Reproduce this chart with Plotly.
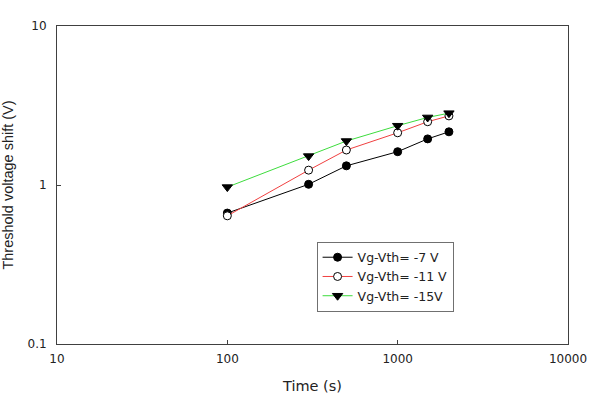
import plotly.graph_objects as go

time_s = [100, 300, 500, 1000, 1500, 2000]
shift_7 = [0.666, 1.01, 1.32, 1.62, 1.95, 2.16]
shift_11 = [0.64, 1.24, 1.66, 2.13, 2.50, 2.72]
shift_15 = [0.97, 1.52, 1.89, 2.36, 2.66, 2.83]

names = ["Vg-Vth= -7 V", "Vg-Vth= -11 V", "Vg-Vth= -15V"]
x_ticks = [10, 100, 1000, 10000]
x_ticktext = ["10", "100", "1000", "10000"]
y_ticks = [0.1, 1, 10]
y_ticktext = ["0.1", "1", "10"]

WIDE = "DejaVu Sans, Verdana, sans-serif"
NARROW = "Liberation Sans, Arial, sans-serif"
AX = "#404040"
TXT = "#222222"

fig = go.Figure()
fig.add_trace(go.Scatter(
    x=time_s, y=shift_7, name=names[0], mode="lines+markers",
    line=dict(color="black", width=1),
    marker=dict(symbol="circle", size=8, color="black", line=dict(color="black", width=1))))
fig.add_trace(go.Scatter(
    x=time_s, y=shift_11, name=names[1], mode="lines+markers",
    line=dict(color="#f04040", width=1),
    marker=dict(symbol="circle", size=8, color="white", line=dict(color="black", width=1))))
fig.add_trace(go.Scatter(
    x=time_s, y=shift_15, name=names[2], mode="lines+markers",
    line=dict(color="#3ddc3d", width=1),
    marker=dict(symbol="triangle-down", size=9, color="black", line=dict(color="black", width=1))))

fig.update_layout(
    width=615, height=412,
    margin=dict(l=57, r=47, t=26, b=68),
    paper_bgcolor="white", plot_bgcolor="white",
    font=dict(family=WIDE, size=12, color=TXT),
    showlegend=True,
    legend=dict(
        x=0.508, y=0.322, xanchor="left", yanchor="top",
        bgcolor="white", bordercolor="#707070", borderwidth=1,
        font=dict(family=WIDE, size=12.5, color=TXT),
        itemwidth=30, tracegroupgap=0,
    ),
    xaxis=dict(
        type="log", range=[1, 4],
        tickvals=x_ticks, ticktext=x_ticktext,
        ticks="inside", ticklen=4, tickwidth=1, tickcolor=AX,
        ticklabelstandoff=4,
        tickfont=dict(family=WIDE, size=12, color=TXT),
        showline=True, linecolor=AX, linewidth=1, mirror=True,
        showgrid=False, zeroline=False,
        title=dict(text="Time (s)", font=dict(family=WIDE, size=14.5, color=TXT), standoff=15),
        automargin=False,
    ),
    yaxis=dict(
        type="log", range=[-1, 1],
        tickvals=y_ticks, ticktext=y_ticktext,
        ticks="inside", ticklen=4, tickwidth=1, tickcolor=AX,
        ticklabelstandoff=7,
        tickfont=dict(family=WIDE, size=12, color=TXT),
        showline=True, linecolor=AX, linewidth=1, mirror=True,
        showgrid=False, zeroline=False,
        title=dict(text="Threshold voltage shift (V)", font=dict(family=NARROW, size=14.5, color=TXT), standoff=14),
        automargin=False,
    ),
)

fig.write_html("out.html")
